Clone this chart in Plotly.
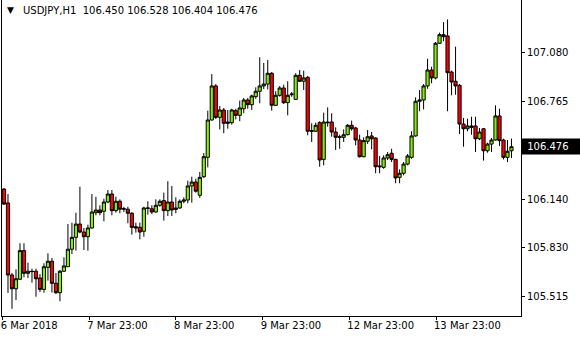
import plotly.graph_objects as go

opens = [106.205,106.116,105.655,105.567,105.628,105.811,105.666,105.679,105.679,105.636,
105.563,105.704,105.743,105.602,105.542,105.679,105.708,105.820,105.896,105.981,
105.930,105.900,105.956,106.054,106.071,106.063,106.122,106.173,106.067,106.127,
106.076,106.076,106.050,105.964,105.960,105.935,106.084,106.079,106.058,106.101,
106.131,106.067,106.122,106.084,106.084,106.127,106.135,106.225,106.250,106.165,
106.284,106.408,106.647,106.865,106.664,106.711,106.634,106.630,106.707,106.677,
106.719,106.775,106.745,106.796,106.831,106.865,106.877,106.946,106.741,106.805,
106.852,106.758,106.809,106.779,106.933,106.895,106.920,106.579,106.575,106.630,
106.395,106.634,106.634,106.570,106.540,106.536,106.553,106.613,106.596,106.519,
106.412,106.511,106.545,106.532,106.353,106.344,106.404,106.434,106.395,106.280,
106.306,106.365,106.408,106.545,106.767,106.775,106.865,106.967,106.916,107.138,
107.193,107.185,106.954,106.895,106.869,106.621,106.591,106.609,106.609,106.527,
106.591,106.450,106.493,106.519,106.673,106.519,106.408,106.450]
highs = [106.212,106.173,105.668,105.691,105.858,105.858,105.734,105.695,105.695,105.661,
105.730,105.794,105.764,105.668,105.687,105.768,105.981,105.990,106.054,106.220,
105.956,105.977,106.173,106.156,106.101,106.143,106.199,106.199,106.156,106.139,
106.092,106.092,106.058,105.990,105.990,106.092,106.127,106.101,106.139,106.139,
106.182,106.255,106.225,106.152,106.139,106.152,106.259,106.284,106.271,106.314,
106.436,106.707,106.941,106.877,106.737,106.724,106.711,106.719,106.719,106.771,
106.788,106.788,106.809,106.856,107.048,107.012,107.031,106.954,106.831,106.865,
106.873,106.895,106.826,106.946,106.967,106.963,106.929,106.626,106.630,106.639,
106.694,106.728,106.690,106.600,106.553,106.587,106.621,106.643,106.604,106.553,
106.536,106.583,106.570,106.536,106.417,106.421,106.442,106.463,106.399,106.331,
106.378,106.429,106.575,106.792,106.839,106.877,107.039,106.988,107.146,107.206,
107.274,107.291,106.963,107.116,106.877,106.660,106.655,106.668,106.668,106.596,
106.596,106.502,106.532,106.741,106.719,106.527,106.519,106.528]
lows = [106.103,105.540,105.439,105.495,105.623,105.640,105.636,105.606,105.516,105.546,
105.542,105.619,105.542,105.533,105.487,105.674,105.708,105.789,105.811,105.922,
105.815,105.811,105.951,106.037,106.037,105.999,106.114,106.037,106.054,106.050,
106.058,105.986,105.913,105.926,105.883,105.900,106.041,106.045,106.054,106.092,
106.003,106.033,106.033,106.050,106.079,106.114,106.114,106.118,106.182,106.148,
106.276,106.344,106.643,106.653,106.587,106.562,106.591,106.617,106.651,106.639,
106.690,106.719,106.711,106.783,106.754,106.845,106.843,106.707,106.737,106.796,
106.749,106.677,106.796,106.775,106.890,106.839,106.549,106.506,106.570,106.348,
106.357,106.604,106.540,106.455,106.463,106.506,106.549,106.579,106.485,106.407,
106.408,106.493,106.459,106.306,106.306,106.335,106.391,106.378,106.242,106.242,
106.293,106.357,106.399,106.540,106.703,106.715,106.847,106.882,106.907,107.133,
107.151,106.703,106.805,106.809,106.557,106.476,106.575,106.553,106.442,106.519,
106.387,106.438,106.442,106.515,106.481,106.395,106.378,106.404]
closes = [106.109,105.655,105.567,105.631,105.811,105.666,105.679,105.677,105.631,105.563,
105.708,105.743,105.602,105.542,105.679,105.713,105.820,105.896,105.981,105.930,
105.900,105.956,106.058,106.071,106.054,106.122,106.173,106.067,106.127,106.076,
106.079,106.050,105.960,105.956,105.930,106.084,106.082,106.058,106.101,106.127,
106.067,106.122,106.071,106.076,106.127,106.135,106.225,106.250,106.191,106.280,
106.412,106.647,106.865,106.664,106.711,106.626,106.626,106.711,106.677,106.724,
106.775,106.745,106.801,106.831,106.865,106.877,106.946,106.741,106.805,106.852,
106.758,106.805,106.813,106.933,106.895,106.916,106.575,106.575,106.613,106.391,
106.634,106.630,106.570,106.536,106.536,106.553,106.613,106.591,106.519,106.412,
106.515,106.540,106.527,106.348,106.348,106.404,106.425,106.395,106.276,106.306,
106.365,106.417,106.545,106.767,106.775,106.865,106.967,106.916,107.138,107.193,
107.180,106.950,106.890,106.865,106.621,106.591,106.609,106.600,106.527,106.570,
106.450,106.493,106.519,106.673,106.515,106.408,106.447,106.476]

bar_index = list(range(len(opens)))
time_labels = ["6 Mar 2018", "7 Mar 23:00", "8 Mar 23:00", "9 Mar 23:00", "12 Mar 23:00", "13 Mar 23:00"]
time_label_pos = [-0.33, 21.35, 43.04, 64.74, 86.41, 108.11]
price_ticks = [105.515, 105.830, 106.140, 106.455, 106.765, 107.080]
price_tick_text = ["105.515", "105.830", "106.140", "", "106.765", "107.080"]
symbol = "USDJPY,H1"
last_price = 106.476

FONT = "DejaVu Sans"

fig = go.Figure()
fig.add_trace(go.Candlestick(
    x=bar_index, open=opens, high=highs, low=lows, close=closes,
    increasing=dict(line=dict(color="black", width=1), fillcolor="#80F000"),
    decreasing=dict(line=dict(color="black", width=1), fillcolor="#FF0000"),
    whiskerwidth=0, showlegend=False, hoverinfo="skip",
))

fig.update_layout(
    width=580, height=340,
    margin=dict(l=2, r=59, t=0, b=24),
    paper_bgcolor="white", plot_bgcolor="white",
    boxgap=0.2, boxgroupgap=0,
    font=dict(family=FONT, size=10, color="black"),
    showlegend=False,
)
fig.update_xaxes(
    range=[-0.5, 129.38], rangeslider=dict(visible=False),
    showgrid=False, zeroline=False,
    showline=True, linecolor="black", linewidth=1,
    ticks="outside", ticklen=3, tickcolor="black",
    tickvals=time_label_pos, ticktext=time_labels,
    ticklabelposition="outside right", ticklabelshift=-3,
    tickfont=dict(family=FONT, size=10, color="black"),
)
fig.update_yaxes(
    range=[105.3926, 107.415], side="right",
    showgrid=False, zeroline=False,
    showline=True, mirror=True, linecolor="black", linewidth=1,
    ticks="outside", ticklen=3, tickcolor="black",
    tickvals=price_ticks, ticktext=price_tick_text,
    tickfont=dict(family=FONT, size=10, color="black"),
)

# header
fig.add_annotation(xref="paper", yref="paper", x=0.006, y=0.967, xanchor="left", yanchor="middle",
                   text="\u25BC", showarrow=False, font=dict(family=FONT, size=9, color="black"))
fig.add_annotation(xref="paper", yref="paper", x=0.0366, y=0.967, xanchor="left", yanchor="middle",
                   text=f"{symbol}\u00a0\u00a0{opens[-1]:.3f} {highs[-1]:.3f} {lows[-1]:.3f} {closes[-1]:.3f}",
                   showarrow=False, font=dict(family=FONT, size=10, color="black"))
# current price label
fig.add_annotation(xref="paper", yref="y", x=1.0, y=last_price, xanchor="left", yanchor="middle",
                   text=f"\u00a0{last_price:.3f}\u00a0\u00a0\u00a0", showarrow=False, bgcolor="black",
                   borderpad=2, font=dict(family=FONT, size=10, color="white"))

fig.write_html("out.html")
